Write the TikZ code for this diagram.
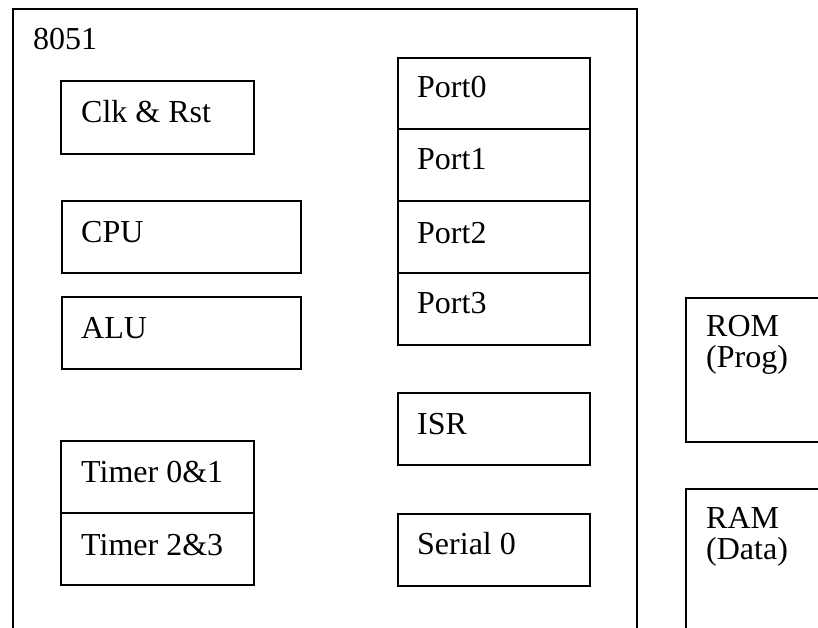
\documentclass[tikz,border=0pt]{standalone}
\usepackage{fontspec}
\setmainfont{Liberation Serif}
\begin{document}
\begin{tikzpicture}[x=1pt,y=-1pt,
  blk/.style={draw=black,line width=1.7pt,rectangle,inner sep=0pt,anchor=north west},
  lbl/.style={anchor=base west,inner sep=0pt,font=\fontsize{32}{32}\selectfont},
  lbl2/.style={anchor=base west,inner sep=0pt,align=left,font=\fontsize{32}{31.5}\selectfont}]
\useasboundingbox (0,0) rectangle (818,628);
\clip (0,0) rectangle (818,628);
% outer chip outline
\coordinate (obl) at (13,640);
\coordinate (otl) at (13,9);
\coordinate (otr) at (637,9);
\coordinate (obr) at (637,640);
\draw[line width=1.7pt] (obl) -- (otl) -- (otr) -- (obr);
\node[lbl] (chip) at (33,50) {8051};
% left column
\node[blk,minimum width=193pt,minimum height=73pt] (clk) at (60,80) {};
\node[blk,minimum width=239pt,minimum height=72pt] (cpu) at (61,200) {};
\node[blk,minimum width=239pt,minimum height=72pt] (alu) at (61,296) {};
\node[blk,minimum width=193pt,minimum height=72pt] (t01) at (60,440) {};
\node[blk,minimum width=193pt,minimum height=72pt] (t23) at (60,512) {};
\node[lbl] at ([xshift=21pt,yshift=-43pt]clk.north west) {Clk \& Rst};
\node[lbl] at ([xshift=20pt,yshift=-42pt]cpu.north west) {CPU};
\node[lbl] at ([xshift=20pt,yshift=-42pt]alu.north west) {ALU};
\node[lbl] at ([xshift=21pt,yshift=-42pt]t01.north west) {Timer 0\&1};
\node[lbl] at ([xshift=21pt,yshift=-43pt]t23.north west) {Timer 2\&3};
% right column
\node[blk,minimum width=192pt,minimum height=71pt] (p0) at (397,57) {};
\node[blk,minimum width=192pt,minimum height=72pt] (p1) at (397,128) {};
\node[blk,minimum width=192pt,minimum height=72pt] (p2) at (397,200) {};
\node[blk,minimum width=192pt,minimum height=72pt] (p3) at (397,272) {};
\node[blk,minimum width=192pt,minimum height=72pt] (isr) at (397,392) {};
\node[blk,minimum width=192pt,minimum height=72pt] (ser) at (397,513) {};
\node[lbl] at ([xshift=20pt,yshift=-41pt]p0.north west) {Port0};
\node[lbl] at ([xshift=20pt,yshift=-42pt]p1.north west) {Port1};
\node[lbl] at ([xshift=20pt,yshift=-43pt]p2.north west) {Port2};
\node[lbl] at ([xshift=20pt,yshift=-41pt]p3.north west) {Port3};
\node[lbl] at ([xshift=20pt,yshift=-42pt]isr.north west) {ISR};
\node[lbl] at ([xshift=20pt,yshift=-41pt]ser.north west) {Serial 0};
% memories outside the chip
\node[blk,minimum width=160pt,minimum height=144pt] (rom) at (685,297) {};
\node[blk,minimum width=160pt,minimum height=180pt] (ram) at (685,488) {};
\node[lbl2] at ([xshift=21pt,yshift=-70.5pt]rom.north west) {ROM\\(Prog)};
\node[lbl2] at ([xshift=21pt,yshift=-71.5pt]ram.north west) {RAM\\(Data)};
\end{tikzpicture}
\end{document}
